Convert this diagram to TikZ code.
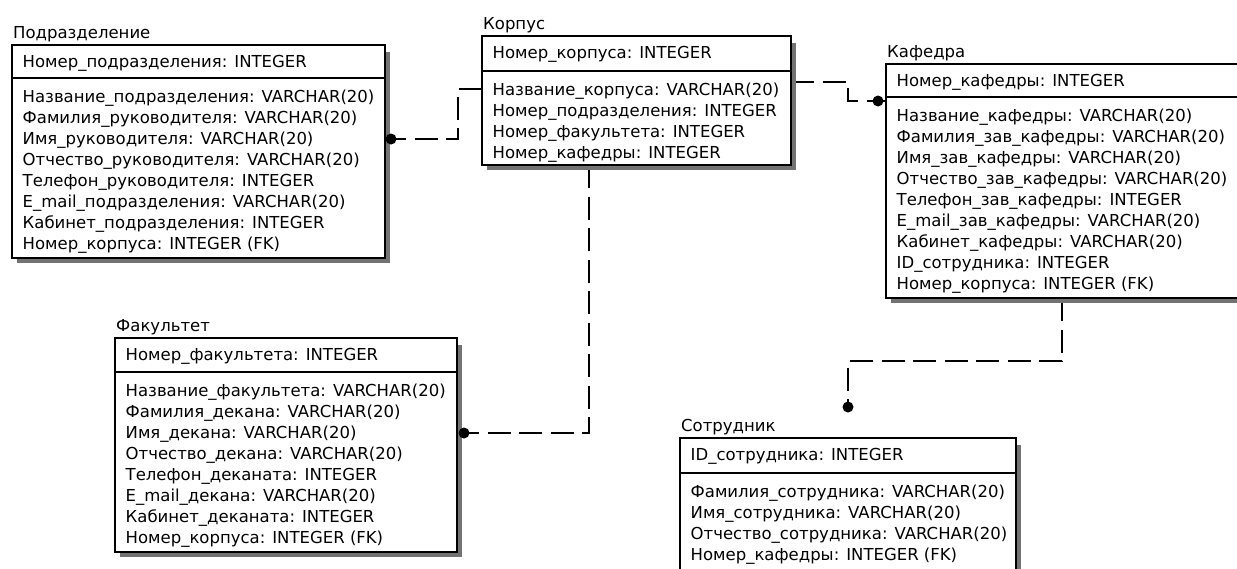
\documentclass[tikz,border=0pt]{standalone}
\usepackage{fontspec}
\setmainfont{DejaVu Sans}
\pgfdeclarelayer{paper}
\pgfdeclarelayer{links}
\pgfdeclarelayer{shadows}
\pgfsetlayers{paper,links,shadows,main}

\tikzset{
  ent/.style={draw, line width=1.1pt, fill=white, inner sep=0pt, outer sep=0pt},
  shadowfill/.style={fill=black!55},
  lbl/.style={inner sep=0pt, anchor=base west, font=\fontsize{16.5}{21}\selectfont},
  rel/.style={line width=1.1pt, dash pattern=on 23pt off 8.5pt},
  reldot/.style={circle, fill=black, inner sep=0pt, minimum size=11pt},
}

% #1 name, #2 left, #3 top, #4 right, #5 bottom, #6 key divider,
% #7 entity title, #8 primary key, #9 remaining attributes
\newcommand\erentity[9]{%
  \begin{pgfonlayer}{shadows}
    \fill[shadowfill] ({#2+5},{#3+7}) rectangle ({#4+5},{#5+5});
  \end{pgfonlayer}
  \node[ent, anchor=north west, minimum width={#4-#2}, minimum height={#5-#3}] (#1) at (#2,#3) {};
  \draw[line width=1.1pt] (#1.west |- 0,#6) -- (#1.east |- 0,#6);
  \node[lbl] (#1-title) at ({#2+1},{#3-6.7}) {#7};
  \node[lbl] (#1-key) at ({#2+10.5},{#3+22.6}) {#8};
  \foreach \a [count=\i] in {#9}
    \node[lbl] (#1-a\i) at ({#2+10.5},{#6+24.3+(\i-1)*21}) {\a};
}

\begin{document}
\begin{tikzpicture}[x=1pt, y=-1pt]
\begin{pgfonlayer}{paper}
  \fill[white] (0,0) rectangle (1237,568);
\end{pgfonlayer}
\clip (0,0) rectangle (1237,568);

\erentity{podr}{12}{45}{385}{258}{78}{Подразделение}{Номер\_подразделения: INTEGER}
  {Название\_подразделения: VARCHAR(20), Фамилия\_руководителя: VARCHAR(20),
   Имя\_руководителя: VARCHAR(20), Отчество\_руководителя: VARCHAR(20),
   Телефон\_руководителя: INTEGER, E\_mail\_подразделения: VARCHAR(20),
   Кабинет\_подразделения: INTEGER, Номер\_корпуса: INTEGER (FK)}

\erentity{korp}{482}{36}{791}{165}{71}{Корпус}{Номер\_корпуса: INTEGER}
  {Название\_корпуса: VARCHAR(20), Номер\_подразделения: INTEGER,
   Номер\_факультета: INTEGER, Номер\_кафедры: INTEGER}

\erentity{kaf}{886}{64}{1244}{298}{97}{Кафедра}{Номер\_кафедры: INTEGER}
  {Название\_кафедры: VARCHAR(20), Фамилия\_зав\_кафедры: VARCHAR(20),
   Имя\_зав\_кафедры: VARCHAR(20), Отчество\_зав\_кафедры: VARCHAR(20),
   Телефон\_зав\_кафедры: INTEGER, E\_mail\_зав\_кафедры: VARCHAR(20),
   Кабинет\_кафедры: VARCHAR(20), ID\_сотрудника: INTEGER,
   Номер\_корпуса: INTEGER (FK)}

\erentity{fak}{115}{338}{457}{552}{372}{Факультет}{Номер\_факультета: INTEGER}
  {Название\_факультета: VARCHAR(20), Фамилия\_декана: VARCHAR(20),
   Имя\_декана: VARCHAR(20), Отчество\_декана: VARCHAR(20),
   Телефон\_деканата: INTEGER, E\_mail\_декана: VARCHAR(20),
   Кабинет\_деканата: INTEGER, Номер\_корпуса: INTEGER (FK)}

\erentity{sotr}{680}{438}{1016}{580}{473}{Сотрудник}{ID\_сотрудника: INTEGER}
  {Фамилия\_сотрудника: VARCHAR(20), Имя\_сотрудника: VARCHAR(20),
   Отчество\_сотрудника: VARCHAR(20), Номер\_кафедры: INTEGER (FK)}

% child ends of the relationships
\node[reldot] (dpodr) at (391,139) {};
\node[reldot] (dkaf)  at (878,101) {};
\node[reldot] (dfak)  at (464,433) {};
\node[reldot] (dsotr) at (848,407) {};

\begin{pgfonlayer}{links}
  \draw[rel] (korp.west |- 0,89) -- (458,89) -- (458,139) -- (dpodr.center);
  \draw[rel] (korp.east |- 0,82) -- (848,82) -- (848,101) -- (dkaf.center);
  \draw[rel] (korp.south -| 589,0) -- (589,433) -- (dfak.center);
  \draw[rel] (kaf.south -| 1062,0) -- (1062,361) -- (848,361) -- (dsotr.center);
\end{pgfonlayer}
\draw[line width=1.1pt] (dkaf.center) -- (kaf.west |- dkaf);
\end{tikzpicture}
\end{document}
